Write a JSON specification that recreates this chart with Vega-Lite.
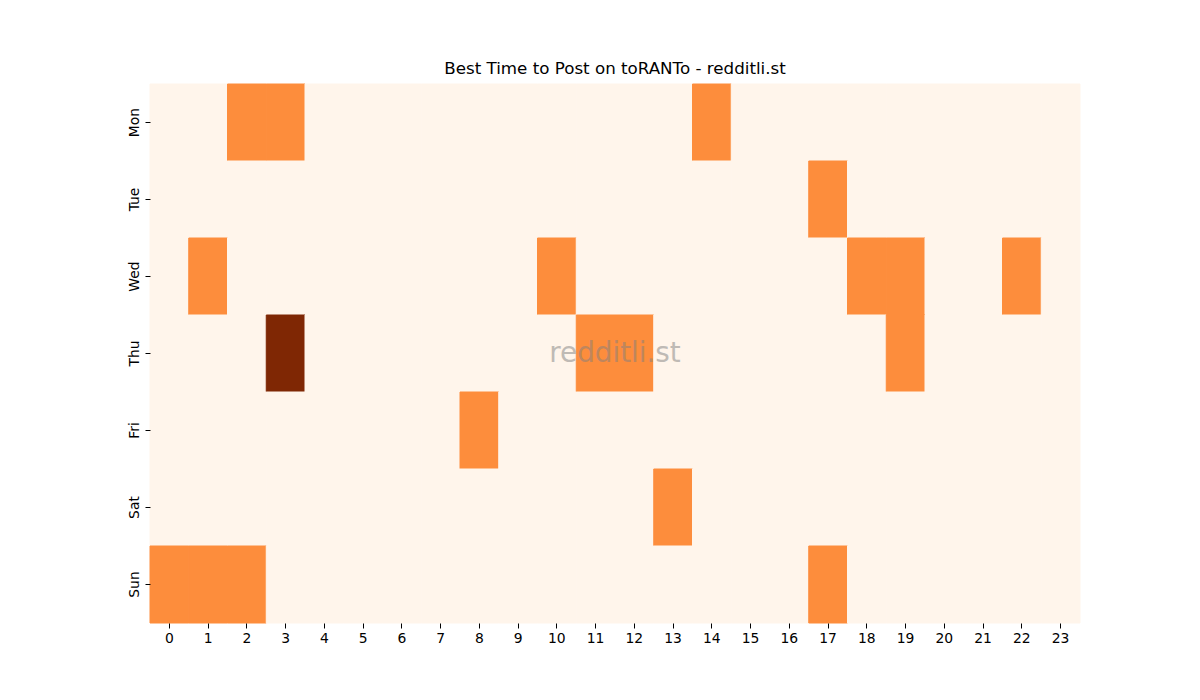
{
  "$schema": "https://vega.github.io/schema/vega-lite/v6.json",
  "width": 930,
  "height": 539,
  "autosize": "none",
  "padding": {"left": 150, "top": 84, "right": 120, "bottom": 77},
  "background": "white",
  "view": {"stroke": null},
  "title": {
    "text": "Best Time to Post on toRANTo - redditli.st",
    "font": "DejaVu Sans",
    "fontSize": 16.7,
    "fontWeight": "normal",
    "color": "black",
    "offset": 6
  },
  "datasets": {
    "posts": [
      {"day":"Mon","hour":0,"n":0},{"day":"Mon","hour":1,"n":0},{"day":"Mon","hour":2,"n":1},{"day":"Mon","hour":3,"n":1},{"day":"Mon","hour":4,"n":0},{"day":"Mon","hour":5,"n":0},{"day":"Mon","hour":6,"n":0},{"day":"Mon","hour":7,"n":0},{"day":"Mon","hour":8,"n":0},{"day":"Mon","hour":9,"n":0},{"day":"Mon","hour":10,"n":0},{"day":"Mon","hour":11,"n":0},{"day":"Mon","hour":12,"n":0},{"day":"Mon","hour":13,"n":0},{"day":"Mon","hour":14,"n":1},{"day":"Mon","hour":15,"n":0},{"day":"Mon","hour":16,"n":0},{"day":"Mon","hour":17,"n":0},{"day":"Mon","hour":18,"n":0},{"day":"Mon","hour":19,"n":0},{"day":"Mon","hour":20,"n":0},{"day":"Mon","hour":21,"n":0},{"day":"Mon","hour":22,"n":0},{"day":"Mon","hour":23,"n":0},
      {"day":"Tue","hour":0,"n":0},{"day":"Tue","hour":1,"n":0},{"day":"Tue","hour":2,"n":0},{"day":"Tue","hour":3,"n":0},{"day":"Tue","hour":4,"n":0},{"day":"Tue","hour":5,"n":0},{"day":"Tue","hour":6,"n":0},{"day":"Tue","hour":7,"n":0},{"day":"Tue","hour":8,"n":0},{"day":"Tue","hour":9,"n":0},{"day":"Tue","hour":10,"n":0},{"day":"Tue","hour":11,"n":0},{"day":"Tue","hour":12,"n":0},{"day":"Tue","hour":13,"n":0},{"day":"Tue","hour":14,"n":0},{"day":"Tue","hour":15,"n":0},{"day":"Tue","hour":16,"n":0},{"day":"Tue","hour":17,"n":1},{"day":"Tue","hour":18,"n":0},{"day":"Tue","hour":19,"n":0},{"day":"Tue","hour":20,"n":0},{"day":"Tue","hour":21,"n":0},{"day":"Tue","hour":22,"n":0},{"day":"Tue","hour":23,"n":0},
      {"day":"Wed","hour":0,"n":0},{"day":"Wed","hour":1,"n":1},{"day":"Wed","hour":2,"n":0},{"day":"Wed","hour":3,"n":0},{"day":"Wed","hour":4,"n":0},{"day":"Wed","hour":5,"n":0},{"day":"Wed","hour":6,"n":0},{"day":"Wed","hour":7,"n":0},{"day":"Wed","hour":8,"n":0},{"day":"Wed","hour":9,"n":0},{"day":"Wed","hour":10,"n":1},{"day":"Wed","hour":11,"n":0},{"day":"Wed","hour":12,"n":0},{"day":"Wed","hour":13,"n":0},{"day":"Wed","hour":14,"n":0},{"day":"Wed","hour":15,"n":0},{"day":"Wed","hour":16,"n":0},{"day":"Wed","hour":17,"n":0},{"day":"Wed","hour":18,"n":1},{"day":"Wed","hour":19,"n":1},{"day":"Wed","hour":20,"n":0},{"day":"Wed","hour":21,"n":0},{"day":"Wed","hour":22,"n":1},{"day":"Wed","hour":23,"n":0},
      {"day":"Thu","hour":0,"n":0},{"day":"Thu","hour":1,"n":0},{"day":"Thu","hour":2,"n":0},{"day":"Thu","hour":3,"n":2},{"day":"Thu","hour":4,"n":0},{"day":"Thu","hour":5,"n":0},{"day":"Thu","hour":6,"n":0},{"day":"Thu","hour":7,"n":0},{"day":"Thu","hour":8,"n":0},{"day":"Thu","hour":9,"n":0},{"day":"Thu","hour":10,"n":0},{"day":"Thu","hour":11,"n":1},{"day":"Thu","hour":12,"n":1},{"day":"Thu","hour":13,"n":0},{"day":"Thu","hour":14,"n":0},{"day":"Thu","hour":15,"n":0},{"day":"Thu","hour":16,"n":0},{"day":"Thu","hour":17,"n":0},{"day":"Thu","hour":18,"n":0},{"day":"Thu","hour":19,"n":1},{"day":"Thu","hour":20,"n":0},{"day":"Thu","hour":21,"n":0},{"day":"Thu","hour":22,"n":0},{"day":"Thu","hour":23,"n":0},
      {"day":"Fri","hour":0,"n":0},{"day":"Fri","hour":1,"n":0},{"day":"Fri","hour":2,"n":0},{"day":"Fri","hour":3,"n":0},{"day":"Fri","hour":4,"n":0},{"day":"Fri","hour":5,"n":0},{"day":"Fri","hour":6,"n":0},{"day":"Fri","hour":7,"n":0},{"day":"Fri","hour":8,"n":1},{"day":"Fri","hour":9,"n":0},{"day":"Fri","hour":10,"n":0},{"day":"Fri","hour":11,"n":0},{"day":"Fri","hour":12,"n":0},{"day":"Fri","hour":13,"n":0},{"day":"Fri","hour":14,"n":0},{"day":"Fri","hour":15,"n":0},{"day":"Fri","hour":16,"n":0},{"day":"Fri","hour":17,"n":0},{"day":"Fri","hour":18,"n":0},{"day":"Fri","hour":19,"n":0},{"day":"Fri","hour":20,"n":0},{"day":"Fri","hour":21,"n":0},{"day":"Fri","hour":22,"n":0},{"day":"Fri","hour":23,"n":0},
      {"day":"Sat","hour":0,"n":0},{"day":"Sat","hour":1,"n":0},{"day":"Sat","hour":2,"n":0},{"day":"Sat","hour":3,"n":0},{"day":"Sat","hour":4,"n":0},{"day":"Sat","hour":5,"n":0},{"day":"Sat","hour":6,"n":0},{"day":"Sat","hour":7,"n":0},{"day":"Sat","hour":8,"n":0},{"day":"Sat","hour":9,"n":0},{"day":"Sat","hour":10,"n":0},{"day":"Sat","hour":11,"n":0},{"day":"Sat","hour":12,"n":0},{"day":"Sat","hour":13,"n":1},{"day":"Sat","hour":14,"n":0},{"day":"Sat","hour":15,"n":0},{"day":"Sat","hour":16,"n":0},{"day":"Sat","hour":17,"n":0},{"day":"Sat","hour":18,"n":0},{"day":"Sat","hour":19,"n":0},{"day":"Sat","hour":20,"n":0},{"day":"Sat","hour":21,"n":0},{"day":"Sat","hour":22,"n":0},{"day":"Sat","hour":23,"n":0},
      {"day":"Sun","hour":0,"n":1},{"day":"Sun","hour":1,"n":1},{"day":"Sun","hour":2,"n":1},{"day":"Sun","hour":3,"n":0},{"day":"Sun","hour":4,"n":0},{"day":"Sun","hour":5,"n":0},{"day":"Sun","hour":6,"n":0},{"day":"Sun","hour":7,"n":0},{"day":"Sun","hour":8,"n":0},{"day":"Sun","hour":9,"n":0},{"day":"Sun","hour":10,"n":0},{"day":"Sun","hour":11,"n":0},{"day":"Sun","hour":12,"n":0},{"day":"Sun","hour":13,"n":0},{"day":"Sun","hour":14,"n":0},{"day":"Sun","hour":15,"n":0},{"day":"Sun","hour":16,"n":0},{"day":"Sun","hour":17,"n":1},{"day":"Sun","hour":18,"n":0},{"day":"Sun","hour":19,"n":0},{"day":"Sun","hour":20,"n":0},{"day":"Sun","hour":21,"n":0},{"day":"Sun","hour":22,"n":0},{"day":"Sun","hour":23,"n":0}
    ],
    "mark": [{"label": "redditli.st"}]
  },
  "layer": [
    {
      "data": {"name": "posts"},
      "mark": {"type": "rect", "strokeWidth": 1},
      "encoding": {
        "x": {
          "field": "hour",
          "type": "ordinal",
          "scale": {"paddingInner": 0, "paddingOuter": 0},
          "axis": {
            "title": null,
            "labelAngle": 0,
            "domain": false,
            "ticks": true,
            "tickSize": 5,
            "tickColor": "black",
            "labelColor": "black",
            "labelFont": "DejaVu Sans",
            "labelFontSize": 13.9,
            "labelPadding": 3
          }
        },
        "y": {
          "field": "day",
          "type": "ordinal",
          "sort": ["Mon", "Tue", "Wed", "Thu", "Fri", "Sat", "Sun"],
          "scale": {"paddingInner": 0, "paddingOuter": 0},
          "axis": {
            "title": null,
            "labelAngle": -90,
            "labelAlign": "center",
            "labelBaseline": "bottom",
            "domain": false,
            "ticks": true,
            "tickSize": 5,
            "tickColor": "black",
            "labelColor": "black",
            "labelFont": "DejaVu Sans",
            "labelFontSize": 13.9,
            "labelPadding": 4
          }
        },
        "color": {
          "field": "n",
          "type": "quantitative",
          "scale": {"domain": [0, 1, 2], "range": ["#fff5eb", "#fd8d3c", "#7f2704"]},
          "legend": null
        },
        "stroke": {
          "field": "n",
          "type": "quantitative",
          "scale": {"domain": [0, 1, 2], "range": ["#fff5eb", "#fd8d3c", "#7f2704"]},
          "legend": null
        }
      }
    },
    {
      "data": {"name": "mark"},
      "mark": {
        "type": "text",
        "font": "DejaVu Sans",
        "fontSize": 27.8,
        "color": "#808080",
        "opacity": 0.5,
        "align": "center",
        "baseline": "middle"
      },
      "encoding": {
        "text": {"field": "label"}
      }
    }
  ]
}
